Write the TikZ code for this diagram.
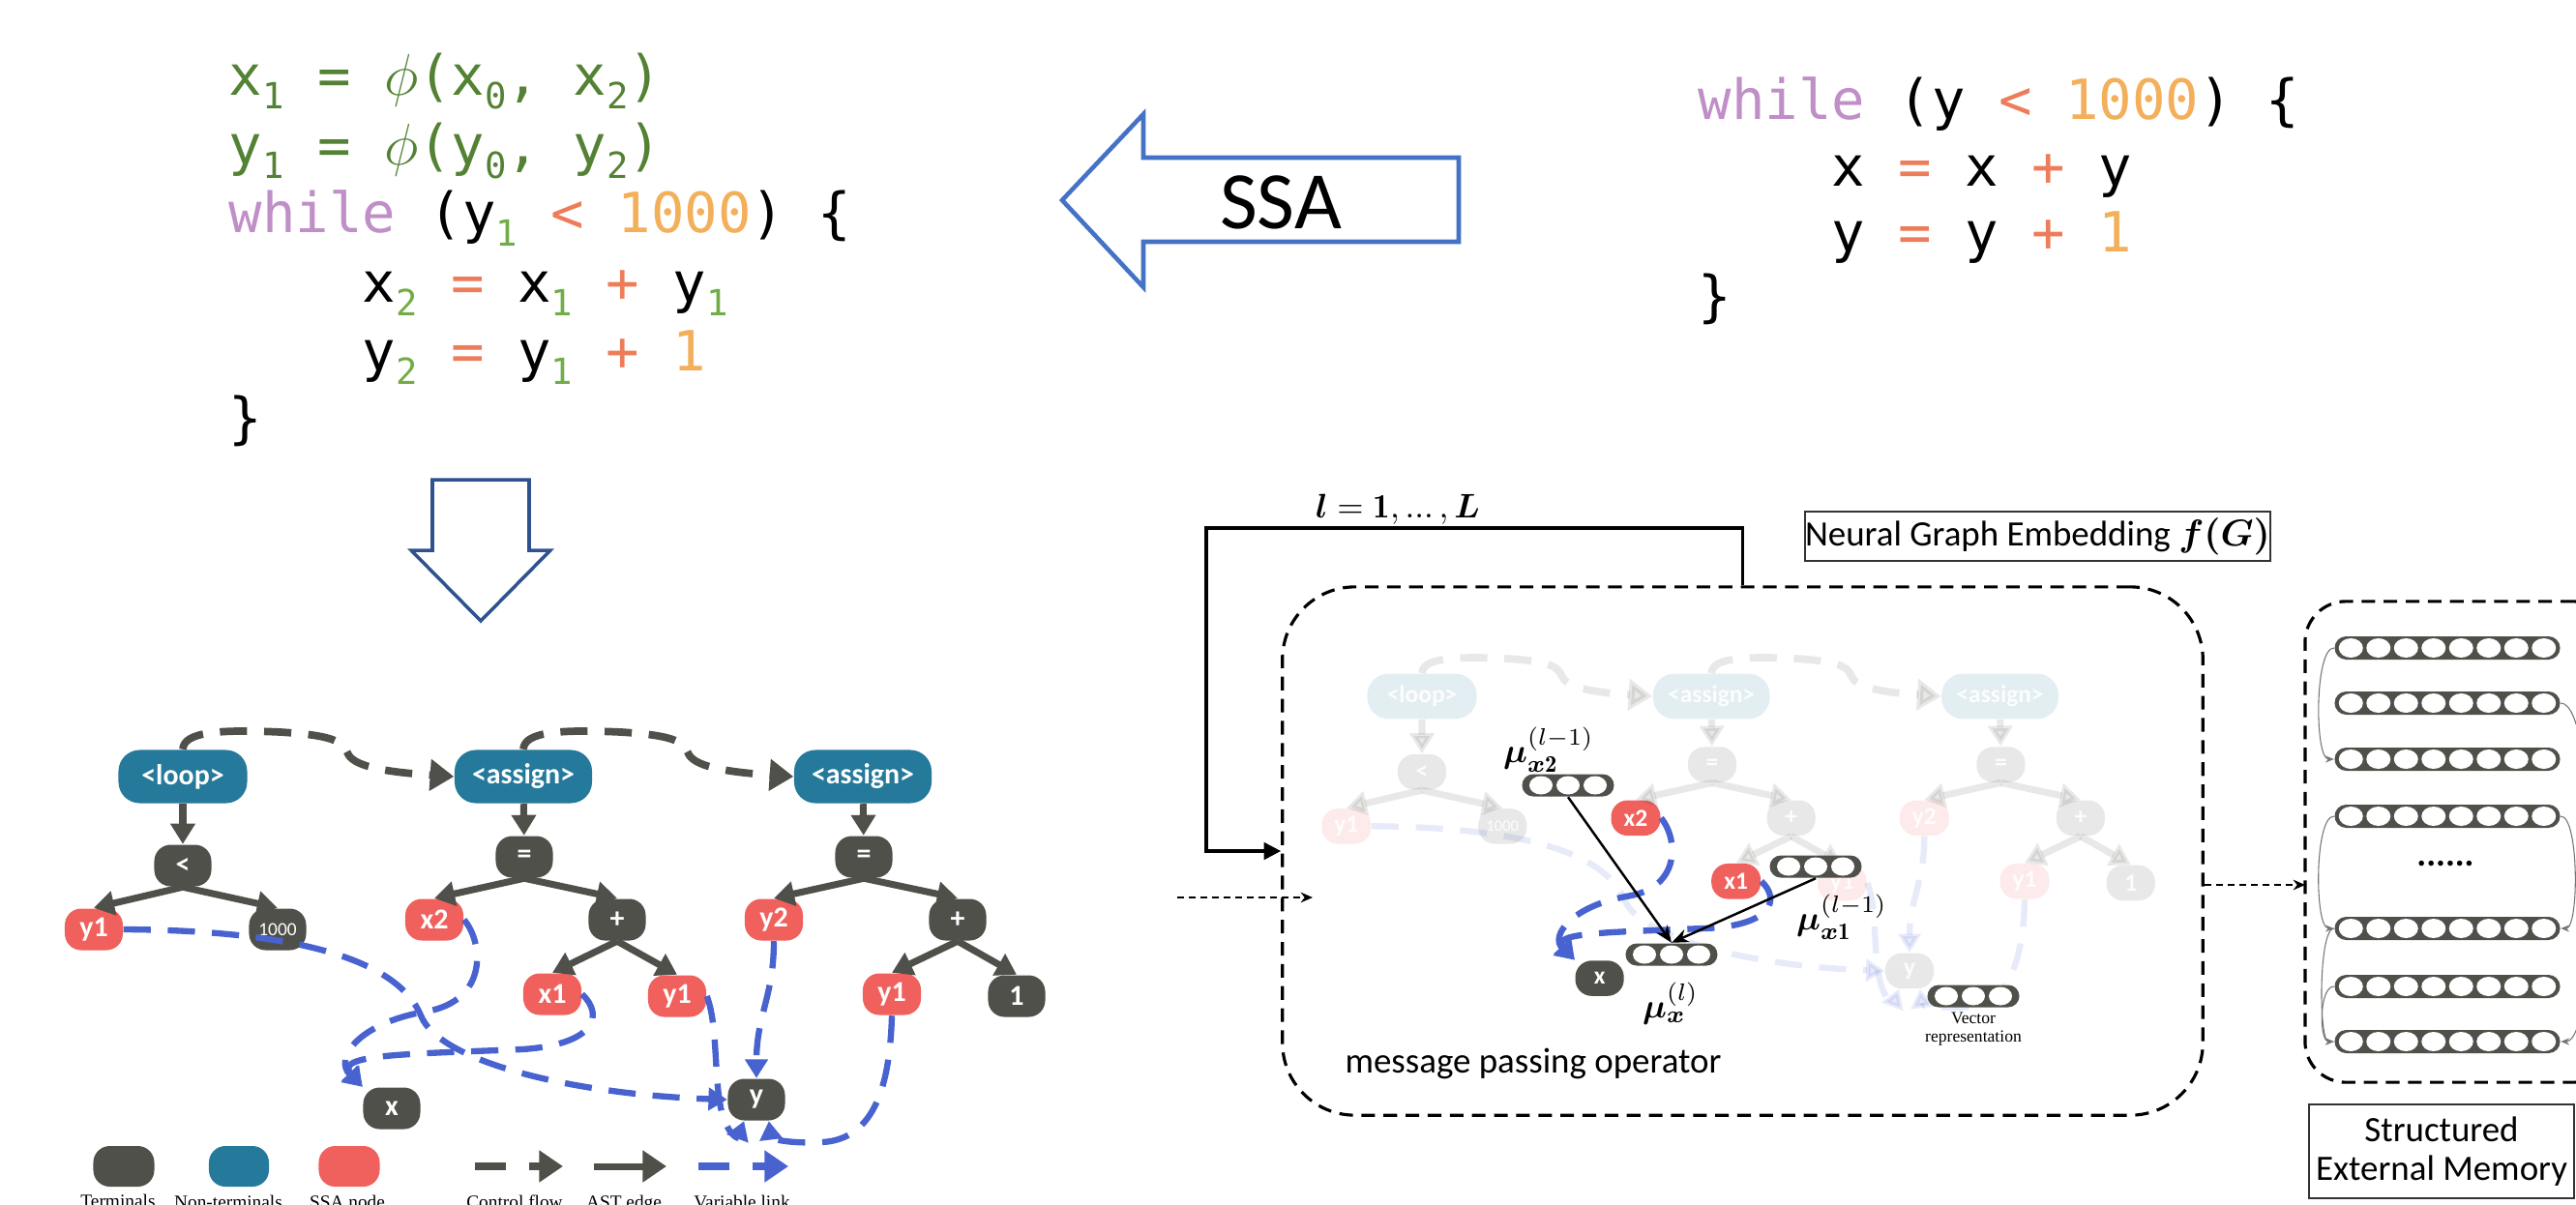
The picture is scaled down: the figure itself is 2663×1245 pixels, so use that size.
\documentclass[tikz,border=0pt]{standalone}
\usepackage{amsmath}
\usepackage{bm}
\usepackage{fontspec}
\newfontfamily\codefont{DejaVu Sans Mono}
\newfontfamily\calfont{Carlito}
\newfontfamily\serfont{Liberation Serif}
\usetikzlibrary{arrows.meta}
\definecolor{termc}{RGB}{80,80,74}
\definecolor{ntermc}{RGB}{37,121,155}
\definecolor{ssac}{RGB}{240,96,92}
\definecolor{linkc}{RGB}{72,99,208}
\definecolor{ssablue}{RGB}{68,114,196}
\definecolor{downblue}{RGB}{47,82,143}
\definecolor{cgreen}{RGB}{84,130,53}
\definecolor{clgreen}{RGB}{112,173,71}
\definecolor{cpurple}{RGB}{192,143,200}
\definecolor{cop}{RGB}{237,125,90}
\definecolor{cnum}{RGB}{243,175,90}
\newcommand{\lsub}[1]{\raisebox{-0.25em}{\fontsize{10.6}{11}\selectfont #1}}
\newcommand{\gsub}[1]{\textcolor{clgreen}{\lsub{#1}}}
\tikzset{
gnode/.style={rectangle, rounded corners=0.17cm, inner sep=0pt, text=white, font=\calfont\bfseries\fontsize{8.5}{9}\selectfont, minimum height=0.43cm}
, tnode/.style={gnode, fill=termc, minimum width=0.59cm}
, snode/.style={gnode, fill=ssac, minimum width=0.60cm}
, ntnode/.style={gnode, fill=ntermc, minimum width=1.42cm, minimum height=0.55cm, rounded corners=0.22cm}
, dim/.style={}
, astedge/.style={draw=termc, line width=2pt, -{Triangle[width=7pt,length=6pt]}}
, ctrlflow/.style={draw=termc, line width=2.2pt, dash pattern=on 8pt off 5pt, -{Triangle[width=9pt,length=7pt]}}
, varlink/.style={draw=linkc, line width=1.8pt, dash pattern=on 8pt off 5pt, -{Triangle[width=6.5pt,length=5.5pt]}}
, codeline/.style={anchor=base west, inner sep=0pt, font=\codefont\fontsize{16.3}{20}\selectfont}
, lgtext/.style={anchor=north, inner sep=0pt, font=\serfont\fontsize{5.5}{6}\selectfont}
, vbar/.style={rectangle, fill=termc, rounded corners=0.115cm, minimum width=0.95cm, minimum height=0.23cm, inner sep=0pt}
, mbar/.style={vbar, minimum width=2.33cm, minimum height=0.24cm, rounded corners=0.12cm}
, dashbox/.style={draw, line width=0.9pt, dash pattern=on 4pt off 2.5pt, rounded corners=0.75cm, inner sep=0pt}
, calbox/.style={draw=black!80, line width=0.5pt, inner sep=0pt, font=\calfont\fontsize{10.5}{11.5}\selectfont, align=center}
, mulabel/.style={inner sep=0pt, font=\fontsize{10}{12}\selectfont}
, msgarrow/.style={line width=0.7pt, -{Stealth[length=5pt,width=4pt]}}
, looparrow/.style={line width=0.9pt, -{Triangle[length=5pt,width=5pt]}}
, inarrow/.style={line width=0.7pt, dash pattern=on 2pt off 1.4pt, -{Stealth[length=3.5pt,width=3pt]}}
, memlink/.style={draw=black!55, line width=0.3pt, -{Stealth[length=2.5pt,width=2pt]}}
, plaintext/.style={inner sep=0pt, font=\calfont\fontsize{10.5}{12}\selectfont}}

% the SSA tree with its links, drawn twice
\newcommand{\astgraph}{%
\node[ntnode, dim, minimum width=1.33cm] (loop) at (189,803) {<loop>};
\node[ntnode, dim] (as1) at (541,803) {<assign>};
\node[ntnode, dim] (as2) at (892,803) {<assign>};
\node[tnode, dim] (lt) at (189,895) {<};
\node[tnode, dim] (eq1) at (542,886) {=};
\node[tnode, dim] (eq2) at (893,886) {=};
\node[snode, dim] (ya) at (97,961) {y1};
\node[tnode, dim, font=\calfont\fontsize{5.5}{6}\selectfont] (k1000) at (287,961) {1000};
\node[snode] (xb) at (449,951) {x2};
\node[tnode, dim] (pl1) at (638,951) {+};
\node[snode, dim] (yb) at (800,951) {y2};
\node[tnode, dim] (pl2) at (990,951) {+};
\node[snode] (xc) at (571,1028) {x1};
\node[snode, dim] (yc) at (700,1030) {y1};
\node[snode, dim] (yd) at (922,1028) {y1};
\node[tnode, dim] (k1) at (1051,1030) {1};
\node[tnode] (xv) at (405,1146) {x};
\node[tnode, dim] (yv) at (782,1137) {y};
\draw[astedge, dim] (loop) -- (lt);
\draw[astedge, dim] (lt.south) -- (ya.north);
\draw[astedge, dim] (lt.south) -- (k1000.north);
\draw[astedge, dim] (as1) -- (eq1);
\draw[astedge, dim] (eq1.south) -- (xb.north);
\draw[astedge, dim] (eq1.south) -- (pl1.north);
\draw[astedge, dim] (pl1.south) -- (xc.north);
\draw[astedge, dim] (pl1.south) -- (yc.north);
\draw[astedge, dim] (as2) -- (eq2);
\draw[astedge, dim] (eq2.south) -- (yb.north);
\draw[astedge, dim] (eq2.south) -- (pl2.north);
\draw[astedge, dim] (pl2.south) -- (yd.north);
\draw[astedge, dim] (pl2.south) -- (k1.north);
\draw[ctrlflow, dim] (loop.north) .. controls (190,757) and (225,754) .. (290,757) .. controls (338,760) and (354,765) .. (359,778) .. controls (364,792) and (395,798) .. (as1.west);
\draw[ctrlflow, dim] (as1.north) .. controls (542,757) and (577,754) .. (642,757) .. controls (690,760) and (706,765) .. (711,778) .. controls (716,792) and (747,798) .. (as2.west);
\draw[varlink, dim] (ya.east) .. controls (300,962) and (410,990) .. (435,1050) .. controls (455,1100) and (600,1132) .. (yv.west);
\draw[varlink] (xb.east) .. controls (500,975) and (505,1035) .. (440,1046) .. controls (370,1058) and (345,1095) .. (xv.north west);
\draw[varlink] (xc.east) .. controls (625,1050) and (615,1080) .. (540,1085) .. controls (420,1090) and (345,1090) .. (xv.north west);
\draw[varlink, dim] (yc.east) .. controls (742,1060) and (738,1110) .. (745,1145) .. controls (750,1170) and (762,1178) .. (yv.-120);
\draw[varlink, dim] (yb.south) .. controls (800,1030) and (782,1050) .. (yv.north);
\draw[varlink, dim] (yd.south) .. controls (920,1120) and (905,1178) .. (850,1181) .. controls (815,1183) and (797,1177) .. (yv.-60);
}

\begin{document}
\begin{tikzpicture}[x=0.01cm, y=-0.01cm]
\useasboundingbox (0,0) rectangle (2663,1245);
\clip (0,0) rectangle (2663,1245);

% SSA code
\node[codeline] (ssa1) at (236,98) {\color{cgreen}x\lsub{1} = $\phi$(x\lsub{0}, x\lsub{2})};
\node[codeline] (ssa2) at (236,170) {\color{cgreen}y\lsub{1} = $\phi$(y\lsub{0}, y\lsub{2})};
\node[codeline] (ssa3) at (236,240) {\textcolor{cpurple}{while} (y\gsub{1} \textcolor{cop}{<} \textcolor{cnum}{1000}) \{};
\node[codeline] (ssa4) at (236,312) {\phantom{xxxx}x\gsub{2} \textcolor{cop}{=} x\gsub{1} \textcolor{cop}{+} y\gsub{1}};
\node[codeline] (ssa5) at (236,383) {\phantom{xxxx}y\gsub{2} \textcolor{cop}{=} y\gsub{1} \textcolor{cop}{+} \textcolor{cnum}{1}};
\node[codeline] (ssa6) at (236,452) {\}};

% source code
\node[codeline] (src1) at (1755,123) {\textcolor{cpurple}{while} (y \textcolor{cop}{<} \textcolor{cnum}{1000}) \{};
\node[codeline] (src2) at (1755,192) {\phantom{xxxx}x \textcolor{cop}{=} x \textcolor{cop}{+} y};
\node[codeline] (src3) at (1755,260) {\phantom{xxxx}y \textcolor{cop}{=} y \textcolor{cop}{+} \textcolor{cnum}{1}};
\node[codeline] (src4) at (1755,326) {\}};

% block arrows
\draw[ssablue, line width=1.3pt, fill=white] (1098,207) -- (1182,118) -- (1182,163) -- (1508,163) -- (1508,250) -- (1182,250) -- (1182,297) -- cycle;
\node[inner sep=0pt, font=\calfont\fontsize{24}{26}\selectfont] (ssalabel) at (1324,209) {SSA};
\draw[downblue, line width=1pt, fill=white] (447,496) -- (547,496) -- (547,569) -- (569,569) -- (497,642) -- (425,569) -- (447,569) -- cycle;

% left graph
\astgraph

% legend
\node[tnode, minimum width=0.63cm, minimum height=0.42cm] (lgterm) at (128,1206) {};
\node[ntnode, minimum width=0.62cm, minimum height=0.42cm, rounded corners=0.17cm] (lgnterm) at (247,1206) {};
\node[snode, minimum width=0.63cm, minimum height=0.42cm] (lgssa) at (361,1206) {};
\coordinate (lgc1) at (491,1206);
\coordinate (lgc2) at (582,1206);
\coordinate (lga1) at (614,1206);
\coordinate (lga2) at (689,1206);
\coordinate (lgv1) at (722,1206);
\coordinate (lgv2) at (815,1206);
\draw[ctrlflow, dash pattern=on 9pt off 7pt] (lgc1) -- (lgc2);
\draw[astedge, -{Triangle[width=9pt,length=7pt]}] (lga1) -- (lga2);
\draw[varlink, line width=2.2pt, dash pattern=on 9pt off 7pt, -{Triangle[width=9pt,length=7pt]}] (lgv1) -- (lgv2);
\node[lgtext] (lgterml) at (122,1234) {Terminals};
\node[lgtext] (lgntl) at (236,1235) {Non-terminals};
\node[lgtext] (lgssal) at (359,1235) {SSA node};
\node[lgtext] (lgcfl) at (532,1235) {Control flow};
\node[lgtext] (lgastl) at (645,1235) {AST edge};
\node[lgtext] (lgvll) at (767,1235) {Variable link};

% message passing box
\node[dashbox, minimum width=9.51cm, minimum height=5.46cm] (mpbox) at (1801.5,880) {};
\begin{scope}[shift={(1470,720)}, scale=0.85, transform shape, shift={(-189,-803)}, name prefix=m-, dim/.style={draw opacity=0.13, fill opacity=0.13, text opacity=0.9}]
\astgraph
\end{scope}
\coordinate (lpcorner) at (1247,546);
\draw[looparrow] (mpbox.north) |- (lpcorner) |- (mpbox.west);
\node[inner sep=0pt, font=\fontsize{10}{12}\selectfont] (lrange) at (1445,527) {$\bm{l} = \mathbf{1},\mathinner{\ldotp\!\ldotp\!\ldotp},\bm{L}$};
\coordinate (inp) at (1217,928);
\coordinate (inend) at (1357,928);
\draw[inarrow] (inp) -- (inend);
\node[calbox, minimum width=4.77cm, minimum height=0.51cm] (ngebox) at (2106.5,554.5) {Neural Graph Embedding $\bm{f(G)}$};
\node[plaintext] (mpo) at (1585,1100) {message passing operator};

% vectors
\foreach \n/\cx/\cy in {mx2/1621/812, mx1/1877/896, mx/1728/987, vrep/2040/1030}{
  \node[vbar] (\n) at (\cx,\cy) {};
  \foreach \k in {-1,0,1} \fill[white] (\cx+\k*28,\cy) ellipse (12 and 9.5);
}
\draw[msgarrow] (mx2.south) -- (mx.north);
\draw[msgarrow] (mx1.south) -- (mx.north);
\node[mulabel] (lblx2) at (1601,775) {$\bm{\mu}_{\bm{x}\mathbf{2}}^{(l-1)}$};
\node[mulabel] (lblx1) at (1904,948) {$\bm{\mu}_{\bm{x}\mathbf{1}}^{(l-1)}$};
\node[mulabel] (lblx) at (1727,1038) {$\bm{\mu}_{\bm{x}}^{(l)}$};
\node[inner sep=0pt, anchor=north, align=center, font=\serfont\fontsize{5}{5.6}\selectfont] (vreplabel) at (2040,1046) {Vector\\representation};

% external memory
\node[dashbox, rounded corners=0.42cm, minimum width=3.2cm, minimum height=4.97cm] (membox) at (2543,870.5) {};
\coordinate (memin) at (2383,915);
\draw[inarrow] (mpbox.east |- memin) -- (memin);
\foreach \r/\ry in {1/670,2/727,3/785,4/844,5/960,6/1020,7/1077}{
  \node[mbar] (mrow\r) at (2530,\ry) {};
  \foreach \k in {0,...,7} \fill[white] (2430.25+\k*28.5,\ry) ellipse (12.5 and 10);
}
\node[plaintext, font=\calfont\bfseries\fontsize{10.5}{12}\selectfont] (memdots) at (2528,893) {......};
\draw[memlink] (mrow1.west) to[out=180, in=180, looseness=0.45] (mrow3.west);
\draw[memlink] (mrow4.west) to[out=180, in=180, looseness=0.45] (mrow5.west);
\draw[memlink] (mrow5.west) to[out=180, in=180, looseness=0.35] (mrow7.west);
\draw[memlink] (mrow6.west) to[out=180, in=180, looseness=0.7] (mrow7.west);
\draw[memlink] (mrow2.east) to[out=0, in=0, looseness=0.3] (mrow7.east);
\draw[memlink] (mrow4.east) to[out=0, in=0, looseness=0.42] (mrow5.east);
\node[calbox, minimum width=2.74cm, minimum height=0.97cm] (memlabel) at (2524,1190.5) {Structured\\External Memory};
\end{tikzpicture}
\end{document}
